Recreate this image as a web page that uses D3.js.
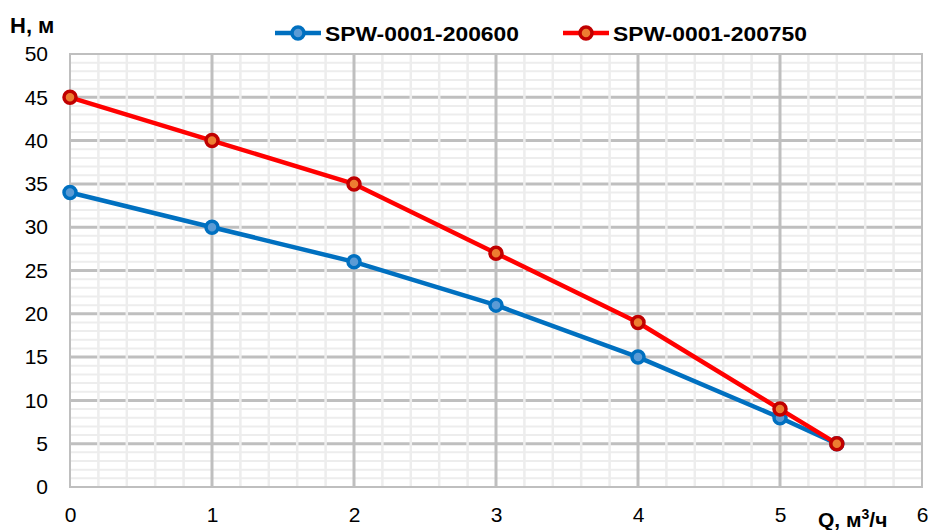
<!DOCTYPE html>
<html>
<head>
<meta charset="utf-8">
<script src="https://cdn.jsdelivr.net/npm/d3@7"></script>
<style>
  body { margin: 0; background: #fff; }
  svg { display: block; font-family: "Liberation Sans", Arial, sans-serif; }
</style>
</head>
<body>
<svg id="chart" width="928" height="530"></svg>
<script>
// data
const flowQ = [0, 1, 2, 3, 4, 5, 5.4];
const head600 = [34, 30, 26, 21, 15, 8, 5];
const head750 = [45, 40, 35, 27, 19, 9, 5];
const seriesNames = ["SPW-0001-200600", "SPW-0001-200750"];
const xTicks = [0, 1, 2, 3, 4, 5, 6];
const yTicks = [0, 5, 10, 15, 20, 25, 30, 35, 40, 45, 50];

const colors = [
  { line: "#0070C0", stroke: "#0070C0", fill: "#5B9BD5" },
  { line: "#FF0000", stroke: "#C00000", fill: "#ED7D31" }
];

const svg = d3.select('#chart');
const x = d3.scaleLinear().domain([0, 6]).range([70, 922]);
const y = d3.scaleLinear().domain([0, 50]).range([487, 54]);

const minorX = d3.range(0, 30).map(i => i / 5).filter(v => v % 1 !== 0);
const minorY = d3.range(0, 50).filter(v => v % 5 !== 0);
const majorY = yTicks.filter(v => v > 0 && v < 50);
const majorX = xTicks.filter(v => v > 0 && v < 6);

const grid = svg.append('g');
// minor horizontal
grid.selectAll('.mh').data(minorY).enter().append('line')
    .attr('x1', x(0)).attr('x2', x(6))
    .attr('y1', d => y(d)).attr('y2', d => y(d))
    .attr('stroke', '#ededed').attr('stroke-width', 2);
// major horizontal (dashed look)
grid.selectAll('.jh').data(majorY).enter().append('line')
    .attr('x1', x(0)).attr('x2', x(6))
    .attr('y1', d => y(d)).attr('y2', d => y(d))
    .attr('stroke', '#bfbfbf').attr('stroke-width', 3);
// minor vertical on top, they break the dashes
grid.selectAll('.mv').data(minorX).enter().append('line')
    .attr('x1', d => x(d)).attr('x2', d => x(d))
    .attr('y1', y(0)).attr('y2', y(50))
    .attr('stroke', '#ededed').attr('stroke-width', 2.5);
// major vertical
grid.selectAll('.jv').data(majorX).enter().append('line')
    .attr('x1', d => x(d)).attr('x2', d => x(d))
    .attr('y1', y(0)).attr('y2', y(50))
    .attr('stroke', '#bfbfbf').attr('stroke-width', 3);
// border
grid.append('rect')
    .attr('x', x(0)).attr('y', y(50))
    .attr('width', x(6) - x(0)).attr('height', y(0) - y(50))
    .attr('fill', 'none').attr('stroke', '#bfbfbf').attr('stroke-width', 2);

// axes labels
const yAxis = d3.axisLeft(y).tickValues(yTicks).tickSize(0).tickPadding(22)
    .tickFormat(d3.format('d'));
svg.append('g').attr('transform', `translate(${x(0)},0)`).call(yAxis)
    .call(g => g.select('.domain').remove())
    .selectAll('text').attr('font-size', 21).attr('fill', '#000')
    .attr('font-family', '"Liberation Sans", Arial, sans-serif');

const xAxis = d3.axisBottom(x).tickValues(xTicks).tickSize(0).tickPadding(20)
    .tickFormat(d3.format('d'));
svg.append('g').attr('transform', `translate(0,${y(0)})`).call(xAxis)
    .call(g => g.select('.domain').remove())
    .selectAll('text').attr('font-size', 21).attr('fill', '#000')
    .attr('font-family', '"Liberation Sans", Arial, sans-serif');

svg.append('text').attr('x', 10).attr('y', 33)
    .attr('font-size', 22).attr('font-weight', 'bold').text('H, м');

const qLabel = svg.append('text').attr('x', 818).attr('y', 527)
    .attr('font-size', 21).attr('font-weight', 'bold');
qLabel.append('tspan').text('Q, м');
qLabel.append('tspan').attr('font-size', 14).attr('dy', -8).text('3');
qLabel.append('tspan').attr('dy', 8).text('/ч');

// series
const allSeries = [head600, head750];
const line = d3.line().x(d => x(d[0])).y(d => y(d[1]));
allSeries.forEach((vals, i) => {
  const pts = flowQ.map((q, j) => [q, vals[j]]);
  const g = svg.append('g');
  g.append('path').datum(pts).attr('d', line)
      .attr('fill', 'none').attr('stroke', colors[i].line)
      .attr('stroke-width', 4.5).attr('stroke-linejoin', 'round');
  g.selectAll('circle').data(pts).enter().append('circle')
      .attr('cx', d => x(d[0])).attr('cy', d => y(d[1])).attr('r', 6)
      .attr('fill', colors[i].fill).attr('stroke', colors[i].stroke)
      .attr('stroke-width', 3.5);
});

// legend
const legendX = [275, 563];
seriesNames.forEach((name, i) => {
  const g = svg.append('g').attr('transform', `translate(${legendX[i]},33)`);
  g.append('line').attr('x1', 0).attr('x2', 46).attr('y1', 0).attr('y2', 0)
      .attr('stroke', colors[i].line).attr('stroke-width', 4.5);
  g.append('circle').attr('cx', 23).attr('cy', 0).attr('r', 6)
      .attr('fill', colors[i].fill).attr('stroke', colors[i].stroke).attr('stroke-width', 3.5);
  g.append('text').attr('x', 50).attr('y', 7.5)
      .attr('font-size', 21).attr('font-weight', 'bold')
      .attr('textLength', 194).attr('lengthAdjust', 'spacingAndGlyphs')
      .text(name);
});
</script>
</body>
</html>
